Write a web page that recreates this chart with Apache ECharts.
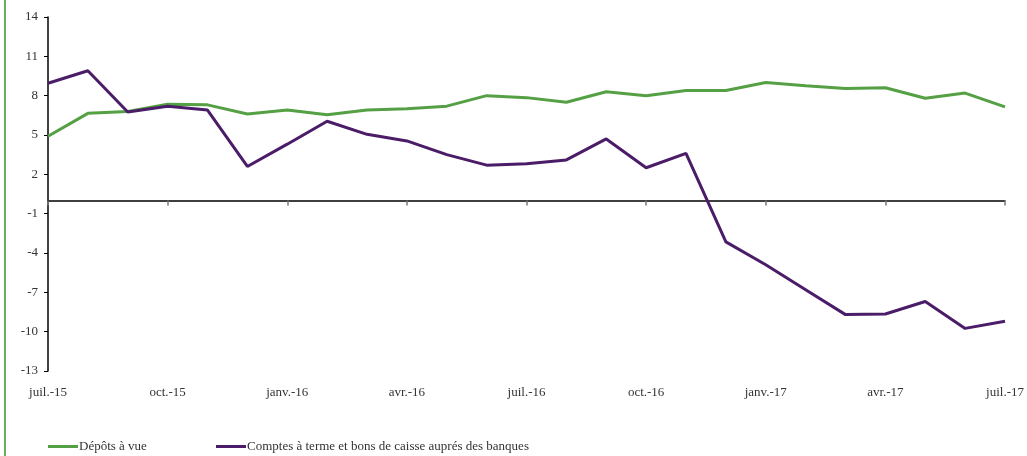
<!DOCTYPE html>
<html>
<head>
<meta charset="utf-8">
<script src="https://cdn.jsdelivr.net/npm/echarts@6/dist/echarts.min.js"></script>
<style>
html,body{margin:0;padding:0;background:#fff;}
#c{width:1027px;height:456px;}
</style>
</head>
<body>
<div id="c"></div>
<script>
const months = ['juil.-15','août-15','sept.-15','oct.-15','nov.-15','déc.-15','janv.-16','févr.-16','mars-16','avr.-16','mai-16','juin-16','juil.-16','août-16','sept.-16','oct.-16','nov.-16','déc.-16','janv.-17','févr.-17','mars-17','avr.-17','mai-17','juin-17','juil.-17'];
const depotsVue = [4.9,6.65,6.8,7.35,7.3,6.6,6.9,6.55,6.9,7.0,7.2,8.0,7.85,7.5,8.3,8.0,8.4,8.4,9.0,8.75,8.55,8.6,7.8,8.2,7.15];
const comptesTerme = [8.95,9.9,6.75,7.2,6.9,2.6,4.3,6.05,5.05,4.55,3.5,2.7,2.8,3.1,4.7,2.5,3.6,-3.15,-4.9,-6.8,-8.7,-8.65,-7.7,-9.75,-9.2];
const yTicks = [-13,-10,-7,-4,-1,2,5,8,11,14];
const seriesNames = ['Dépôts à vue','Comptes à terme et bons de caisse auprés des banques'];

const font = '"Liberation Serif", "DejaVu Serif", serif';
const chart = echarts.init(document.getElementById('c'), null, {renderer:'canvas'});
chart.setOption({
  animation:false,
  backgroundColor:'#fff',
  textStyle:{fontFamily:font},
  grid:{left:48,right:22,top:17,bottom:85,containLabel:false},
  graphic:[{type:'rect',left:4,top:0,shape:{width:2,height:456},style:{fill:'#6aae5c'}}],
  legend:[
    {data:[seriesNames[0]],left:48,top:440,padding:0,icon:'rect',itemWidth:30,itemHeight:3,
     textStyle:{fontFamily:font,fontSize:13,color:'#333',padding:[0,0,0,-4]}},
    {data:[seriesNames[1]],left:216,top:440,padding:0,icon:'rect',itemWidth:30,itemHeight:3,
     textStyle:{fontFamily:font,fontSize:13,color:'#333',padding:[0,0,0,-4]}}
  ],
  xAxis:[
    {type:'category',data:months,boundaryGap:false,
     axisLine:{onZero:true,lineStyle:{color:'#000',width:1.5}},
     axisTick:{show:true,interval:2,length:5,lineStyle:{color:'#777',width:1.5}},
     axisLabel:{show:false}},
    {type:'category',data:months,boundaryGap:false,position:'bottom',
     axisLine:{show:false,onZero:false},axisTick:{show:false},
     axisLabel:{show:true,interval:2,margin:15,fontFamily:font,fontSize:13,color:'#333'}}
  ],
  yAxis:{type:'value',min:-13,max:14,
    splitLine:{show:false},
    axisLine:{show:true,lineStyle:{color:'#000',width:1.5}},
    axisTick:{show:true,length:4,customValues:yTicks,lineStyle:{color:'#000'}},
    axisLabel:{customValues:yTicks,margin:10,fontFamily:font,fontSize:13,color:'#333'}},
  series:[
    {name:seriesNames[0],type:'line',data:depotsVue,xAxisIndex:0,showSymbol:false,symbol:'none',
     lineStyle:{color:'#55a044',width:3},itemStyle:{color:'#55a044'}},
    {name:seriesNames[1],type:'line',data:comptesTerme,xAxisIndex:0,showSymbol:false,symbol:'none',
     lineStyle:{color:'#4b1c68',width:3},itemStyle:{color:'#4b1c68'}}
  ]
});
</script>
</body>
</html>
